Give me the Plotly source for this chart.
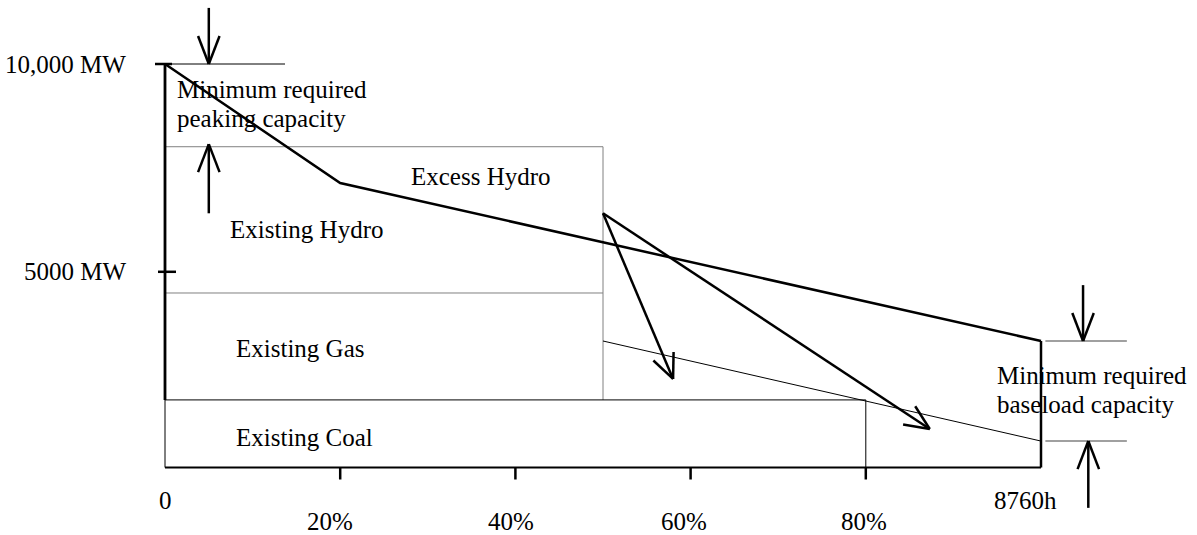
import math
import plotly.graph_objects as go

# x = share of the year (0..1 -> 0..8760h), y = load in MW
load_x = [0.0, 0.2, 1.0]
load_y = [10000, 7050, 3135]

coal_right = 0.8
coal_top = 1675
gas_right = 0.5
gas_top = 4325
hydro_top = 7950

# load curve minus the excess hydro
residual_x = [0.5, 1.0]
residual_y = [3135, 655]

shift_arrow_from = (0.5, 6300)
shift_arrow_tips_x = [0.58, 0.873]
shift_arrow_tips_y = [2195, 955]

xtick_vals = [0.2, 0.4, 0.6, 0.8]
xtick_label_x = [0.188, 0.395, 0.592, 0.798]
xtick_text = ["20%", "40%", "60%", "80%"]
ytick_vals = [10000, 4850]
ytick_text = ["10,000 MW", "5000 MW"]

# peaking / baseload capacity markers
peak_line_x = [0.0, 0.137]
peak_arrow_x = 0.05
peak_down = (11390, 10000)
peak_up = (6300, 8015)
base_line_x = [1.005, 1.098]
base_arrow_x = [1.048, 1.054]
base_down = (4520, 3135)
base_up = (-1000, 655)

labels = [
    ("Existing Hydro", 0.1615, 5910, "center"),
    ("Excess Hydro", 0.361, 7200, "center"),
    ("Existing Gas", 0.154, 2960, "center"),
    ("Existing Coal", 0.159, 756, "center"),
    ("Minimum required", 0.0114, 9380, "left"),
    ("peaking capacity", 0.0114, 8660, "left"),
    ("Minimum required", 0.947, 2290, "left"),
    ("baseload capacity", 0.947, 1570, "left"),
]

W, H = 1197, 535
X0_PX, PX_PER_X = 165, 876
Y0_PX, PX_PER_MW = 467.5, 40.35 / 1000
FONT = dict(family="Liberation Serif, Times New Roman, serif", size=25, color="black")
GRAY = "#808080"


def dx(px):
    return px / PX_PER_X


def dy(px):
    return px / PX_PER_MW


fig = go.Figure()


def line(xs, ys, width=1, color="black"):
    fig.add_trace(go.Scatter(x=xs, y=ys, mode="lines", hoverinfo="skip",
                             line=dict(color=color, width=width)))


def arrow(x0, y0, x1, y1, head=30, angle=21, width=2.5):
    # head drawn in pixel space so it keeps its shape
    ux, uy = (x1 - x0) * PX_PER_X, (y1 - y0) * PX_PER_MW
    n = math.hypot(ux, uy)
    ux, uy = ux / n, uy / n
    xs, ys = [x0, x1, None], [y0, y1, None]
    for s in (1, -1):
        a = math.radians(angle) * s
        rx = ux * math.cos(a) - uy * math.sin(a)
        ry = ux * math.sin(a) + uy * math.cos(a)
        xs += [x1 - dx(head * rx), x1, None]
        ys += [y1 - dy(head * ry), y1, None]
    line(xs, ys, width)


# existing capacity blocks
line([0, gas_right, gas_right], [hydro_top, hydro_top, coal_top], 1, GRAY)
line([0, gas_right], [gas_top, gas_top], 1, GRAY)
line([0, coal_right, coal_right], [coal_top, coal_top, 0], 1)
line([0, 0], [coal_top, 0], 1)
line(residual_x, residual_y, 1)

# axes
line([0, 0], [10000, coal_top], 2.8)
line([0, 1], [0, 0], 2)
line([1, 1], [load_y[-1], 0], 2.5)
tx, ty = [], []
for v in xtick_vals:
    tx += [v, v, None]
    ty += [0, -dy(12), None]
line(tx, ty, 2.5)
line([dx(-10), dx(7)], [ytick_vals[0]] * 2, 2.5)
line([dx(-7), dx(11)], [ytick_vals[1]] * 2, 2.5)

# load duration curve
line(load_x, load_y, 2.5)

for tx_, ty_ in zip(shift_arrow_tips_x, shift_arrow_tips_y):
    arrow(*shift_arrow_from, tx_, ty_, head=27, angle=24)

# capacity markers
line(peak_line_x, [10000, 10000], 1)
arrow(peak_arrow_x, peak_down[0], peak_arrow_x, peak_down[1])
arrow(peak_arrow_x, peak_up[0], peak_arrow_x, peak_up[1])
line(base_line_x, [base_down[1]] * 2, 1.5, GRAY)
line(base_line_x, [base_up[1]] * 2, 1.5, GRAY)
arrow(base_arrow_x[0], base_down[0], base_arrow_x[0], base_down[1])
arrow(base_arrow_x[1], base_up[0], base_arrow_x[1], base_up[1])

annotations = []
for text, x, y, anchor in labels:
    annotations.append(dict(text=text, x=x, y=y, xanchor=anchor, yanchor="middle",
                            showarrow=False, font=FONT))
for v, text in zip(ytick_vals, ytick_text):
    annotations.append(dict(text=text, x=dx(-37), y=v, xanchor="right",
                            yanchor="middle", showarrow=False, font=FONT))
for x, text in zip(xtick_label_x, xtick_text):
    annotations.append(dict(text=text, x=x, y=-dy(54), showarrow=False, font=FONT,
                            borderpad=0))
annotations.append(dict(text="0", x=0, y=-dy(32.5), showarrow=False, font=FONT))
annotations.append(dict(text="8760h", x=0.982, y=-dy(32.5), showarrow=False, font=FONT))

fig.update_layout(
    width=W, height=H,
    margin=dict(l=0, r=0, t=0, b=0),
    showlegend=False,
    plot_bgcolor="white", paper_bgcolor="white",
    xaxis=dict(range=[-X0_PX / PX_PER_X, (W - X0_PX) / PX_PER_X], visible=False),
    yaxis=dict(range=[-(H - Y0_PX) / PX_PER_MW, Y0_PX / PX_PER_MW], visible=False),
    annotations=annotations,
)

# page body has a default 8px margin; drop it so the figure sits at the corner
fig.write_html("out.html", config={"displayModeBar": False},
               post_script="document.body.style.margin='0';")
